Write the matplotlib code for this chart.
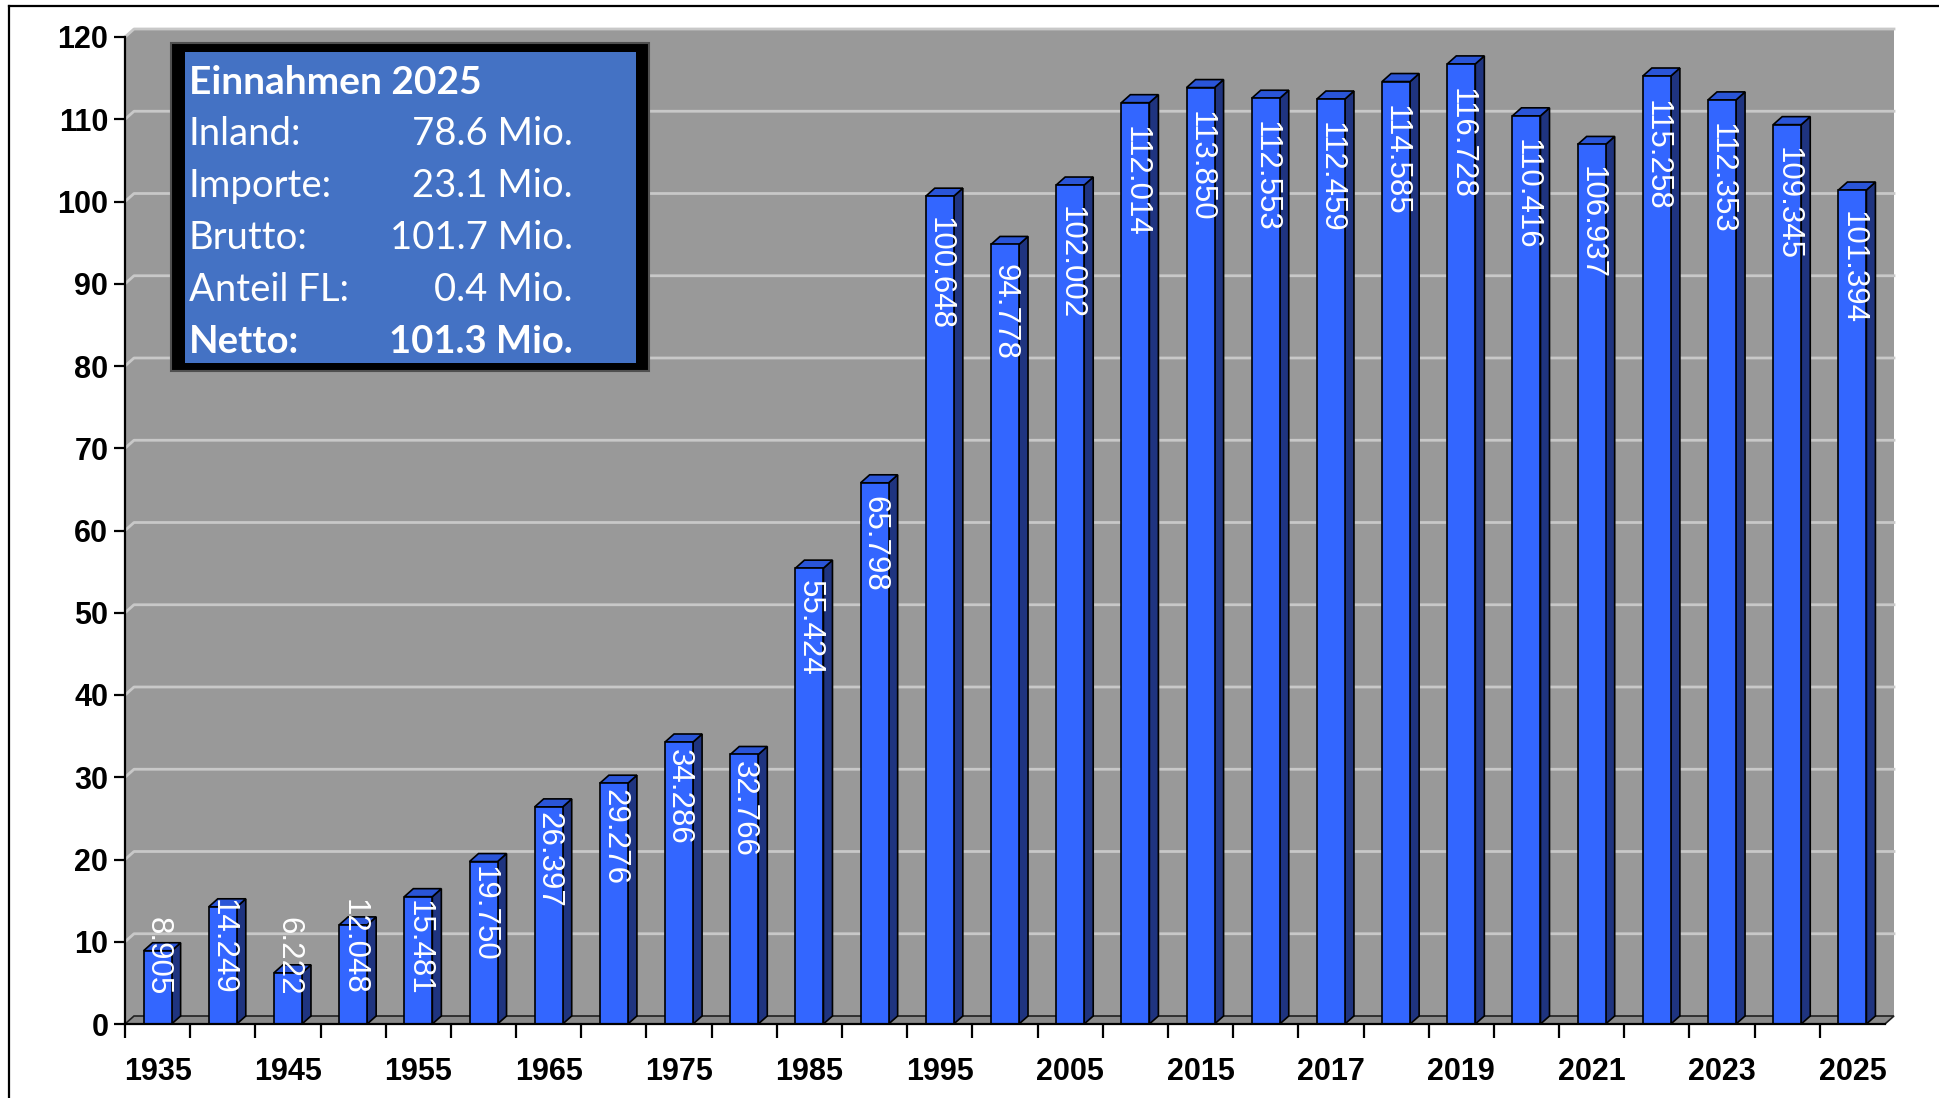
import matplotlib
matplotlib.use('Agg')
import matplotlib.pyplot as plt
from matplotlib.patches import Polygon, Rectangle
from matplotlib.lines import Line2D

# data (Mio.)
years = [1935, 1940, 1945, 1950, 1955, 1960, 1965, 1970, 1975, 1980, 1985, 1990,
         1995, 2000, 2005, 2010, 2015, 2016, 2017, 2018, 2019, 2020, 2021, 2022,
         2023, 2024, 2025]
values = [8.905, 14.249, 6.222, 12.048, 15.481, 19.750, 26.397, 29.276, 34.286,
          32.766, 55.424, 65.798, 100.648, 94.778, 102.002, 112.014, 113.850,
          112.553, 112.459, 114.585, 116.728, 110.416, 106.937, 115.258, 112.353,
          109.345, 101.394]
value_labels = ['8.905', '14.249', '6.222', '12.048', '15.481', '19.750', '26.397',
                '29.276', '34.286', '32.766', '55.424', '65.798', '100.648', '94.778',
                '102.002', '112.014', '113.850', '112.553', '112.459', '114.585',
                '116.728', '110.416', '106.937', '115.258', '112.353', '109.345',
                '101.394']
tick_labels = ['1935', '1945', '1955', '1965', '1975', '1985', '1995', '2005',
               '2015', '2017', '2019', '2021', '2023', '2025']
yticks = [0, 10, 20, 30, 40, 50, 60, 70, 80, 90, 100, 110, 120]

box_title = 'Einnahmen 2025'
box_labels = ['Inland:', 'Importe:', 'Brutto:', 'Anteil FL:', 'Netto:']
box_values = ['78.6 Mio.', '23.1 Mio.', '101.7 Mio.', '0.4 Mio.', '101.3 Mio.']

W, H = 1939, 1098
fig = plt.figure(figsize=(W / 100, H / 100), dpi=100)
fig.patch.set_facecolor('white')

def fx(px):
    return px / W

def fy(py):
    return 1 - py / H

# front plane of the 3d chart
left, right, bottom, top = 125, 1885, 1024, 37
ax = fig.add_axes([fx(left), fy(bottom), (right - left) / W, (bottom - top) / H])
ax.set_facecolor('none')
n = len(values)
ax.set_xlim(-0.5, n - 0.5)
ax.set_ylim(0, 120)

px_x = (right - left) / n
px_y = (bottom - top) / 120
ddx = 9 / px_x
ddy = 8 / px_y
x0, x1 = -0.5, n - 0.5

wall = '#999999'
# left wall + back wall
ax.add_patch(Polygon([(x0, 0), (x0, 120), (x0 + ddx, 120 + ddy), (x0 + ddx, ddy)],
                     closed=True, facecolor=wall, edgecolor='none', zorder=0, clip_on=False))
ax.add_patch(Rectangle((x0 + ddx, ddy), x1 - x0, 120, facecolor=wall,
                       edgecolor='none', zorder=0, clip_on=False))
for y in yticks[1:]:
    ax.plot([x0, x0 + ddx, x1 + ddx], [y, y + ddy, y + ddy], color='#c8c8c8',
            lw=2, zorder=1, clip_on=False)
# floor
ax.add_patch(Polygon([(x0, 0), (x1, 0), (x1 + ddx, ddy), (x0 + ddx, ddy)],
                     closed=True, facecolor='#8a8a8a', edgecolor='#202020', lw=1.2,
                     zorder=2, clip_on=False))

# bars
w = 0.43
xs = list(range(n))
ax.bar(xs, values, width=w, color='#3366ff', edgecolor='black', linewidth=1.2, zorder=4)
for x, v in zip(xs, values):
    xr = x + w / 2
    xl = x - w / 2
    ax.add_patch(Polygon([(xr, 0), (xr + ddx, ddy), (xr + ddx, v + ddy), (xr, v)],
                         closed=True, facecolor='#1f3480', edgecolor='black', lw=1.2,
                         zorder=3, clip_on=False))
    ax.add_patch(Polygon([(xl, v), (xr, v), (xr + ddx, v + ddy), (xl + ddx, v + ddy)],
                         closed=True, facecolor='#2a55d8', edgecolor='black', lw=1.2,
                         zorder=3, clip_on=False))

texts = []
for x, v, lab in zip(xs, values, value_labels):
    t = ax.text(x, v, lab, rotation=-90, ha='center', va='top', color='white',
                fontsize=22.5, family=['Liberation Sans', 'DejaVu Sans'], zorder=6)
    texts.append(t)

# axes look
for s in ['top', 'right']:
    ax.spines[s].set_visible(False)
ax.spines['left'].set_linewidth(1.6)
ax.spines['bottom'].set_linewidth(1.6)
ax.spines['left'].set_zorder(5)
ax.spines['bottom'].set_zorder(5)

ax.set_yticks(yticks)
ax.tick_params(axis='y', length=8, width=1.6, pad=4, labelsize=22)
ax.set_xticks(xs[::2])
ax.set_xticklabels(tick_labels)
ax.set_xticks([i - 0.5 for i in range(n)], minor=True)
ax.tick_params(axis='x', which='major', length=0, pad=24, labelsize=22)
ax.tick_params(axis='x', which='minor', length=10, width=1.6)
for lab in ax.get_xticklabels() + ax.get_yticklabels():
    lab.set_family(['Liberation Sans', 'DejaVu Sans'])
    lab.set_fontweight('bold')

# push short labels up so they sit above the floor
fig.canvas.draw()
r = fig.canvas.get_renderer()
for t, v in zip(texts, values):
    L = t.get_window_extent(r).height / px_y
    y_top = max(v * 0.975, 3.5 + L)
    t.set_y(y_top)

# info box
fig.add_artist(Rectangle((fx(171), fy(371)), (649 - 171) / W, (371 - 43) / H,
                         transform=fig.transFigure, facecolor='black',
                         edgecolor='#505050', lw=1.5, zorder=10))
fig.add_artist(Rectangle((fx(185), fy(363)), (636 - 185) / W, (363 - 52) / H,
                         transform=fig.transFigure, facecolor='#4472c4',
                         edgecolor='none', zorder=11))
box_font = ['Lato', 'DejaVu Sans']
fig.text(fx(189), fy(82), box_title, color='white', fontsize=28, fontweight='bold',
         family=box_font, va='center', ha='left', zorder=12)
for i, (lab, val) in enumerate(zip(box_labels, box_values)):
    yy = fy(82 + 52 * (i + 1))
    wt = 'bold' if lab == 'Netto:' else 'normal'
    fig.text(fx(189), yy, lab, color='white', fontsize=27.5, fontweight=wt,
             family=box_font, va='center', ha='left', zorder=12)
    fig.text(fx(573), yy, val, color='white', fontsize=27.5, fontweight=wt,
             family=box_font, va='center', ha='right', zorder=12)

# outer frame
fig.add_artist(Line2D([fx(9), 1], [fy(6), fy(6)], transform=fig.transFigure,
                      color='black', lw=1.6))
fig.add_artist(Line2D([fx(9), fx(9)], [0, fy(6)], transform=fig.transFigure,
                      color='black', lw=1.6))

fig.savefig('out.png', dpi=100)
